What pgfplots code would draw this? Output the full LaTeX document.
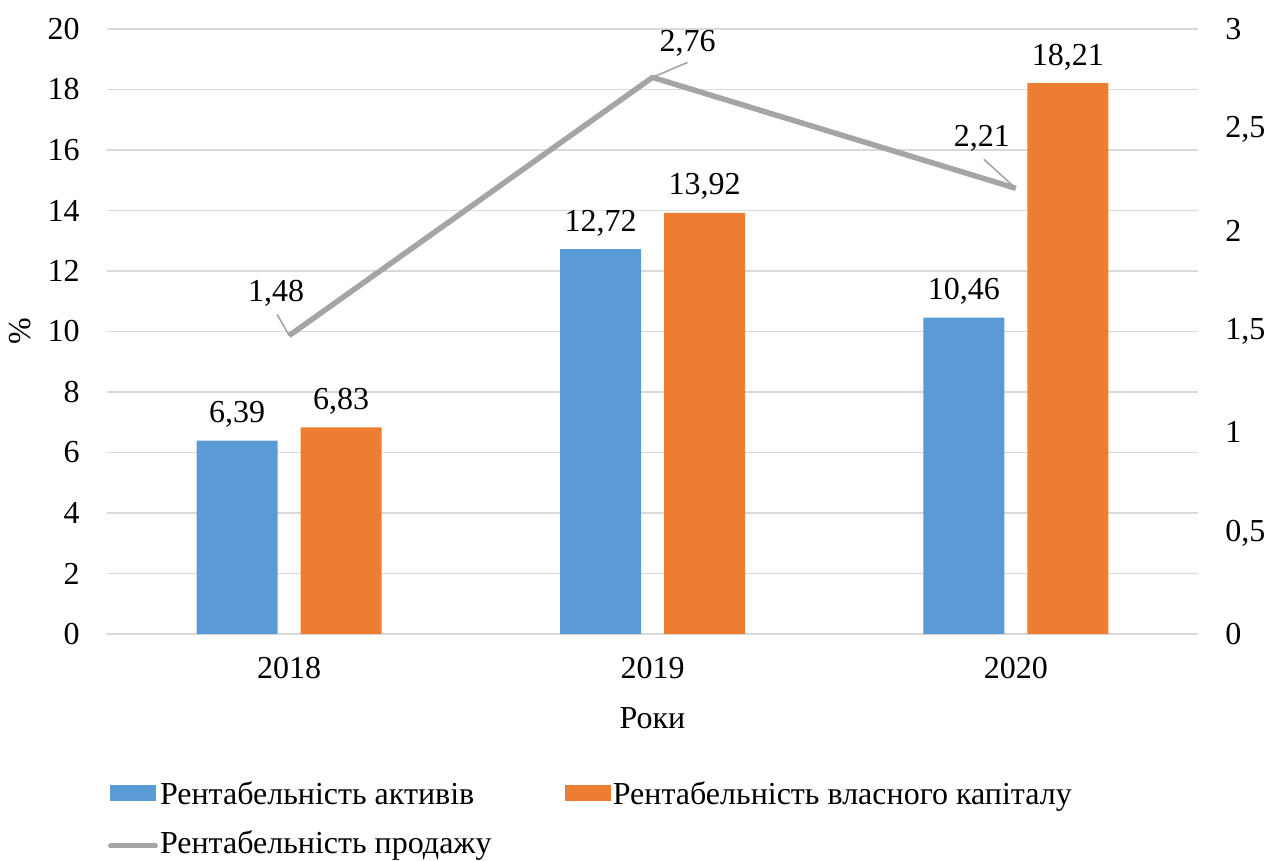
\documentclass[border=0pt]{standalone}
\usepackage{fontspec}
\setmainfont{Liberation Serif}
\usepackage{pgfplots}
\pgfplotsset{compat=1.18}
\definecolor{cblue}{HTML}{5B9BD5}
\definecolor{corange}{HTML}{ED7D31}
\definecolor{cgray}{HTML}{A5A5A5}
\definecolor{cgrid}{HTML}{D9D9D9}

\pgfplotsset{
 base/.style={
  scale only axis, width=545pt, height=302.5pt,
  at={(0,0)}, anchor=south west,
  xmin=-0.5, xmax=2.5,
  axis line style={draw=none},
  major tick length=0pt,
  /pgf/number format/assume math mode=true,
  /pgf/number format/use comma,
 }
}

\begin{document}
\fontsize{16}{19}\selectfont
\begin{tikzpicture}
\useasboundingbox (-53.75pt,-113.5pt) rectangle (580.75pt,317pt);
\begin{axis}[base,
  ymin=0, ymax=20, ytick={0,2,4,6,8,10,12,14,16,18,20},
  ymajorgrids, grid style={cgrid, line width=0.75pt},
  xtick={0,1,2}, xticklabels={2018,2019,2020},
  yticklabel style={xshift=-8.4pt},
  xticklabel style={yshift=-6.2pt},
  xlabel={Роки},
  xlabel style={at={(axis description cs:0.5,0)}, anchor=center, yshift=-42pt},
  ylabel={\%},
  ylabel style={at={(axis description cs:0,0.5)}, anchor=center, yshift=43.75pt},
  ybar=11.5pt, bar width=40.5pt,
  nodes near coords={\pgfmathprintnumber[fixed,fixed zerofill,precision=2]{\pgfplotspointmeta}},
  nodes near coords style={yshift=1pt, text=black},
 ]
\addplot[fill=cblue, draw=none] table {
x y
0 6.39
1 12.72
2 10.46
};
\addplot[fill=corange, draw=none] table {
x y
0 6.83
1 13.92
2 18.21
};
\end{axis}
\begin{axis}[base,
  ymin=0, ymax=3, ytick={0,0.5,1,1.5,2,2.5,3},
  xtick=\empty,
  yticklabel pos=right,
  yticklabel style={xshift=8.4pt, /pgf/number format/.cd, fixed, use comma},
  legend columns=2,
  legend cell align=left,
  legend style={draw=none, fill=none, at={(axis description cs:0.0005,-0.2413)},
    anchor=north west, inner sep=0pt, outer sep=0pt, row sep=7.5pt, column sep=0pt,
    nodes={inner sep=1pt, text height=11.5pt, text depth=3.5pt}},
 ]
\addlegendimage{legend image code/.code={\fill[cblue] (0pt,-1.75pt) rectangle (22.5pt,5.75pt);}}
\addlegendentry{\makebox[201.5pt][l]{Рентабельність активів}}
\addlegendimage{legend image code/.code={\fill[corange] (0pt,-1.75pt) rectangle (22.5pt,5.75pt);}}
\addlegendentry{Рентабельність власного капіталу}
\addplot[cgray, line width=2.75pt, line join=round, mark=none,
  nodes near coords={\pgfmathprintnumber[fixed,fixed zerofill,precision=2]{\pgfplotspointmeta}},
  visualization depends on={\thisrow{dx} \as \dx},
  visualization depends on={\thisrow{dy} \as \dy},
  nodes near coords style={anchor=center, xshift=\dx pt, yshift=\dy pt, text=black},
  legend image code/.code={\draw[cgray, line width=2.5pt, line cap=round] (0pt,0pt) -- (22.5pt,0pt);}
] table {
x y dx dy
0 1.48 -6.5 21
1 2.76 17.5 17
2 2.21 -17 25
};
\addlegendentry{Рентабельність продажу}
\draw[cgray, line width=0.8pt] (axis cs:0,1.48) -- ++(-6pt,10.5pt);
\draw[cgray, line width=0.8pt] (axis cs:1,2.76) -- ++(17.5pt,7.5pt);
\draw[cgray, line width=0.8pt] (axis cs:2,2.21) -- ++(-16pt,14.5pt);
\end{axis}
\end{tikzpicture}
\end{document}
